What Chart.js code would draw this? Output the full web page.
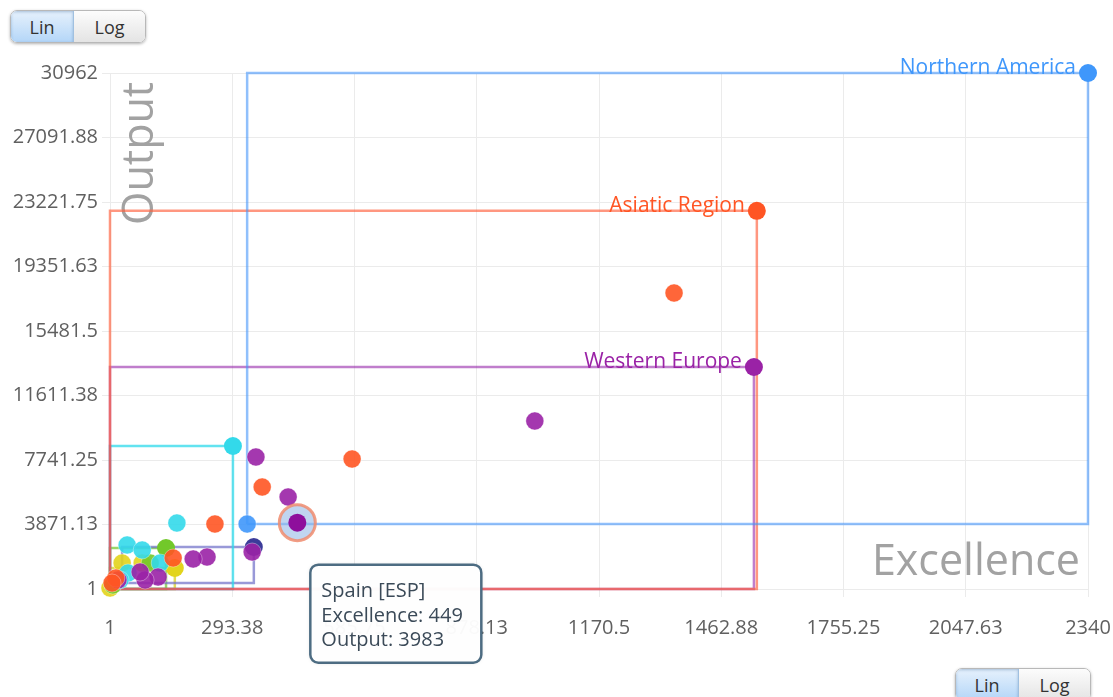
<!DOCTYPE html>
<html>
<head>
<meta charset="utf-8">
<script src="https://cdn.jsdelivr.net/npm/chart.js@4.4.1/dist/chart.umd.min.js"></script>
<style>
  html, body { margin: 0; padding: 0; background: #fff; }
  body { width: 1113px; height: 697px; position: relative; overflow: hidden; font-family: 'Open Sans', sans-serif; }
  #chart { position: absolute; left: 0; top: 0; }
  .switch { position: absolute; display: flex; height: 31px; border: 1px solid #b8b8b8; border-radius: 7px; overflow: hidden; box-shadow: 0 1px 3px rgba(0,0,0,0.3); font-size: 18px; color: #333; }
  .switch span { display: flex; align-items: center; justify-content: center; }
  .switch .on { width: 62px; background: linear-gradient(#e6f1fc, #b4d6f8); border-right: 1px solid #a0c0e0; box-shadow: inset 0 1px 3px rgba(40, 90, 150, 0.35); }
  .switch .off { width: 71px; background: linear-gradient(#fcfcfc, #e4e4e4); }
</style>
</head>
<body>
<canvas id="chart" width="1113" height="697"></canvas>
<div class="switch" style="left: 10px; top: 10px;"><span class="on">Lin</span><span class="off">Log</span></div>
<div class="switch" style="left: 955px; top: 668px;"><span class="on">Lin</span><span class="off">Log</span></div>
<script>
// axis ticks
const xTickLabels = ['1', '293.38', '585.75', '878.13', '1170.5', '1462.88', '1755.25', '2047.63', '2340']
const yTickLabels = ['1', '3871.13', '7741.25', '11611.38', '15481.5', '19351.63', '23221.75', '27091.88', '30962']

// regions: top-right corner is the region itself, bottom-left is its smallest country
const regionNames = ['Northern America', 'Asiatic Region', 'Western Europe', 'Eastern Europe', 'Middle East', 'Latin America', 'Africa']
const regionExcellence = [2340, 1548, 1541, 295, 345, 135, 156]
const regionOutput = [30962, 22690, 13321, 8581, 2521, 2461, 1261]
const regionMinExcellence = [329, 1, 1, 1, 30, 1, 1]
const regionMinOutput = [3901, 1, 1, 1, 361, 1, 1]
const regionColors = ['#3f97fb', '#ff5524', '#9a22a6', '#33d9ea', '#3c3c9a', '#72c82a', '#e2d41c']
const regionLineColors = ['rgba(70,150,250,0.6)', 'rgba(255,95,60,0.65)', 'rgba(150,40,170,0.6)', 'rgba(45,218,235,0.75)',
  'rgba(110,110,200,0.7)', 'rgba(110,200,40,0.7)', 'rgba(215,205,20,0.7)']
const labelledRegions = ['Northern America', 'Asiatic Region', 'Western Europe']

// countries, per region
const northernAmericaExcellence = [329]
const northernAmericaOutput = [3901]
const asiaticExcellence = [1350, 580, 365, 252, 152, 15, 6]
const asiaticOutput = [17761, 7801, 6121, 3901, 1861, 661, 361]
const westernEuropeExcellence = [1017, 350, 427, 341, 233, 200, 116, 85, 73, 20]
const westernEuropeOutput = [10081, 7921, 5521, 2221, 1921, 1801, 721, 541, 1021, 541]
const easternEuropeExcellence = [161, 42, 78, 121, 44, 25]
const easternEuropeOutput = [3961, 2641, 2341, 1561, 961, 541]
const latinAmericaExcellence = [97, 8]
const latinAmericaOutput = [1561, 241]
const africaExcellence = [30, 78, 1]
const africaOutput = [1561, 1561, 61]

// highlighted country
const spainLabel = 'Spain [ESP]'
const spainExcellence = 449
const spainOutput = 3983

const countryExcellence = [northernAmericaExcellence, asiaticExcellence, westernEuropeExcellence, easternEuropeExcellence, [], latinAmericaExcellence, africaExcellence]
const countryOutput = [northernAmericaOutput, asiaticOutput, westernEuropeOutput, easternEuropeOutput, [], latinAmericaOutput, africaOutput]

const toPoints = (xs, ys) => xs.map((x, i) => ({ x, y: ys[i] }))
const FONT = "'Open Sans', sans-serif"

const datasets = []

// region boxes
regionNames.forEach((name, i) => {
  const x0 = regionMinExcellence[i]
  const y0 = regionMinOutput[i]
  const x1 = regionExcellence[i]
  const y1 = regionOutput[i]
  datasets.push({
    label: name + ' box',
    data: toPoints([x0, x0, x1, x1, x0], [y0, y1, y1, y0, y0]),
    showLine: true,
    borderColor: regionLineColors[i],
    borderWidth: 2.5,
    pointRadius: 0,
    fill: false,
    clip: false,
    order: 10
  })
})

// countries
regionNames.forEach((name, i) => {
  datasets.push({
    label: name + ' countries',
    data: toPoints(countryExcellence[i], countryOutput[i]),
    backgroundColor: regionColors[i] + 'e6',
    borderColor: 'rgba(255,255,255,0.35)',
    borderWidth: 1,
    pointRadius: 9,
    clip: false,
    order: 5
  })
})

// regions
datasets.push({
  label: 'regions',
  data: toPoints(regionExcellence, regionOutput),
  backgroundColor: regionColors,
  borderColor: regionColors,
  borderWidth: 0,
  pointRadius: 9,
  clip: false,
  order: 6
})

// spain halo + point
datasets.push({
  label: 'halo',
  data: [{ x: spainExcellence, y: spainOutput }],
  backgroundColor: 'rgba(150,185,230,0.6)',
  borderColor: 'rgba(240,140,110,0.85)',
  borderWidth: 3,
  pointRadius: 18,
  order: 2
})
datasets.push({
  label: spainLabel,
  data: [{ x: spainExcellence, y: spainOutput }],
  backgroundColor: '#8e0f9c',
  borderColor: '#8e0f9c',
  borderWidth: 0,
  pointRadius: 9,
  order: 1
})

const overlay = {
  id: 'overlay',
  beforeDatasetsDraw (chart) {
    const { ctx, chartArea } = chart
    ctx.save()
    ctx.fillStyle = '#a2a2a2'
    ctx.font = '43px ' + FONT
    ctx.textAlign = 'right'
    ctx.textBaseline = 'alphabetic'
    ctx.fillText('Excellence', chartArea.right - 8, chartArea.bottom - 14)
    ctx.translate(chartArea.left + 43, chartArea.top + 152)
    ctx.rotate(-Math.PI / 2)
    ctx.textAlign = 'left'
    ctx.fillText('Output', 0, 0)
    ctx.restore()
  },
  afterDraw (chart) {
    const { ctx } = chart
    const xs = chart.scales.x
    const ys = chart.scales.y
    ctx.save()
    // region labels
    ctx.font = '21px ' + FONT
    ctx.textAlign = 'right'
    ctx.textBaseline = 'alphabetic'
    regionNames.forEach((name, i) => {
      if (!labelledRegions.includes(name)) return
      ctx.fillStyle = regionColors[i]
      ctx.fillText(name, xs.getPixelForValue(regionExcellence[i]) - 12, ys.getPixelForValue(regionOutput[i]) + 1)
    })
    // tooltip
    const px = xs.getPixelForValue(spainExcellence)
    const py = ys.getPixelForValue(spainOutput)
    const bx = px + 13
    const by = py + 42
    const bw = 171
    const bh = 98
    ctx.beginPath()
    ctx.roundRect(bx, by, bw, bh, 8)
    ctx.fillStyle = 'rgba(255,255,255,0.97)'
    ctx.shadowColor = 'rgba(0,0,0,0.15)'
    ctx.shadowBlur = 4
    ctx.fill()
    ctx.shadowColor = 'transparent'
    ctx.lineWidth = 2.5
    ctx.strokeStyle = '#4d6c82'
    ctx.stroke()
    ctx.fillStyle = '#3b4a58'
    ctx.textAlign = 'left'
    ctx.font = '20px ' + FONT
    ctx.fillText(spainLabel, bx + 11, by + 32)
    ctx.fillText('Excellence: ' + spainExcellence, bx + 11, by + 57)
    ctx.fillText('Output: ' + spainOutput, bx + 11, by + 81)
    ctx.restore()
  }
}

const tickValues = labels => labels.map(l => ({ value: parseFloat(l) }))

new Chart(document.getElementById('chart'), {
  type: 'scatter',
  data: { datasets },
  options: {
    responsive: false,
    animation: false,
    events: [],
    layout: { padding: { top: 73, right: 25, left: 0, bottom: 0 } },
    plugins: { legend: { display: false }, tooltip: { enabled: false } },
    scales: {
      x: {
        type: 'linear',
        min: parseFloat(xTickLabels[0]),
        max: parseFloat(xTickLabels[xTickLabels.length - 1]),
        afterBuildTicks: scale => { scale.ticks = tickValues(xTickLabels) },
        afterFit: scale => {
          scale.height = 108
          scale.paddingLeft = 0
          scale.paddingRight = 0
        },
        grid: { color: '#ebebeb', tickLength: 8 },
        border: { display: false },
        ticks: {
          callback: (v, i) => xTickLabels[i],
          color: '#606060',
          font: { family: FONT, size: 20 },
          padding: 19,
          maxRotation: 0,
          autoSkip: false
        }
      },
      y: {
        type: 'linear',
        min: parseFloat(yTickLabels[0]),
        max: parseFloat(yTickLabels[yTickLabels.length - 1]),
        afterBuildTicks: scale => { scale.ticks = tickValues(yTickLabels) },
        afterFit: scale => {
          scale.width = 110
          scale.paddingTop = 0
          scale.paddingBottom = 0
        },
        grid: { color: '#ebebeb', tickLength: 8 },
        border: { display: false },
        ticks: {
          callback: (v, i) => yTickLabels[i],
          color: '#606060',
          font: { family: FONT, size: 20 },
          padding: 4,
          autoSkip: false
        }
      }
    }
  },
  plugins: [overlay]
})
</script>
</body>
</html>
